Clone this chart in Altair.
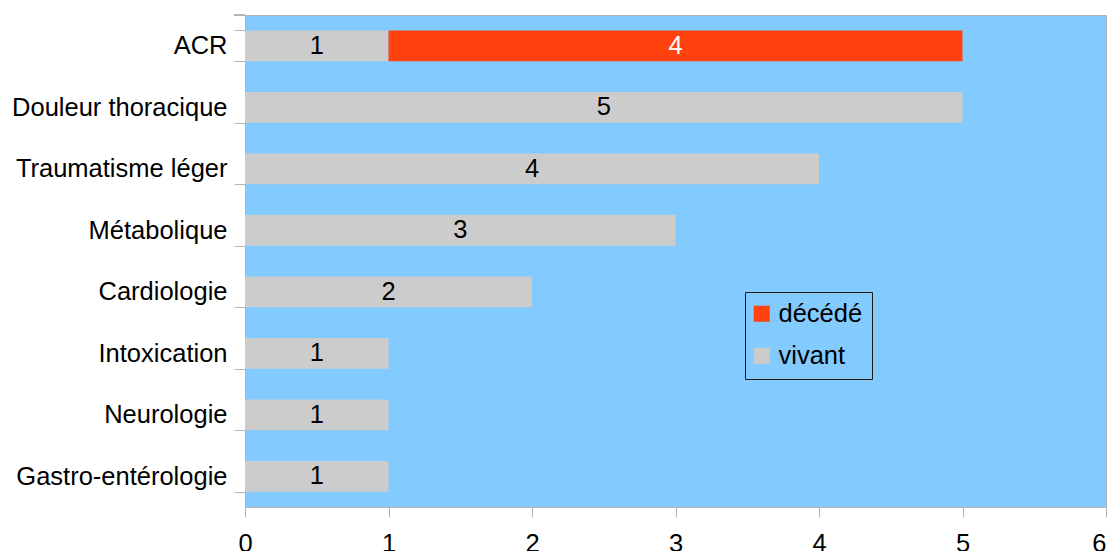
import altair as alt
import pandas as pd

categories = ["ACR", "Douleur thoracique", "Traumatisme léger", "Métabolique",
              "Cardiologie", "Intoxication", "Neurologie", "Gastro-entérologie"]
vivant = [1, 5, 4, 3, 2, 1, 1, 1]
decede = [4, 0, 0, 0, 0, 0, 0, 0]
statuses = ["décédé", "vivant"]
status_colors = ["#ff420e", "#cccccc"]
x_ticks = [0, 1, 2, 3, 4, 5, 6]

rows = []
for c, v, d in zip(categories, vivant, decede):
    if v:
        rows.append({"cat": c, "status": "vivant", "n": v, "ord": 1})
    if d:
        rows.append({"cat": c, "status": "décédé", "n": d, "ord": 2})
df = pd.DataFrame(rows)

FONT = "Liberation Sans"
FS = 25.5
W, H = 861, 492
STEP = H / 8.0

y_enc = alt.Y("cat:N", sort=categories, title=None,
              scale=alt.Scale(paddingInner=0.5, paddingOuter=0.25),
              axis=alt.Axis(labelFont=FONT, labelFontSize=FS, labelColor="#000000",
                            tickColor="#b3b3b3", tickSize=11, labelPadding=7,
                            domainColor="#b3b3b3", tickBand="extent",
                            tickOffset=STEP * 0.25, labelLimit=400))

base = alt.Chart(df)

bars = base.mark_bar().encode(
    x=alt.X("n:Q", stack="zero", title=None,
            scale=alt.Scale(domain=[0, 6], nice=False),
            axis=alt.Axis(values=x_ticks, format="d", grid=False, labelFont=FONT,
                          labelFontSize=FS, labelColor="#000000", tickColor="#b3b3b3",
                          tickSize=10, labelPadding=14, domainColor="#b3b3b3",
                          labelFlush=False,
                          labelAlign=alt.ExprRef(expr="datum.value == 6 ? 'right' : 'center'"))),
    y=y_enc,
    color=alt.Color("status:N", scale=alt.Scale(domain=statuses, range=status_colors),
                    legend=alt.Legend(title=None, orient="none", legendX=500, legendY=277,
                                      symbolType="square", symbolSize=256,
                                      symbolStrokeWidth=0, labelFont=FONT,
                                      labelFontSize=FS, labelColor="#000000",
                                      symbolOffset=-5, labelOffset=4,
                                      rowPadding=15, padding=9,
                                      strokeColor="#1a1a1a")),
    order=alt.Order("ord:Q"),
)

texts = base.transform_stack(
    stack="n", groupby=["cat"], as_=["x0", "x1"], sort=[alt.SortField("ord")]
).transform_calculate(
    mid="(datum.x0 + datum.x1) / 2"
).mark_text(font=FONT, fontSize=FS, baseline="middle", align="center").encode(
    x=alt.X("mid:Q"),
    y=alt.Y("cat:N", sort=categories),
    text=alt.Text("n:Q"),
    color=alt.condition(alt.datum.status == "décédé", alt.value("#ffffff"), alt.value("#000000")),
)

top_tick = alt.Chart(df).mark_rule(color="#b3b3b3", strokeWidth=1).encode(
    x=alt.value(-11), x2=alt.value(0), y=alt.value(0)
)

chart = alt.layer(bars, texts, top_tick).properties(
    width=W, height=H,
    autosize=alt.AutoSizeParams(type="none"),
    padding={"left": 237, "top": 7, "right": 1, "bottom": 44},
).configure_view(
    fill="#83caff", stroke="#b3b3b3", strokeWidth=1
)

chart.save("out.html", embed_options={"renderer": "svg", "actions": False})
